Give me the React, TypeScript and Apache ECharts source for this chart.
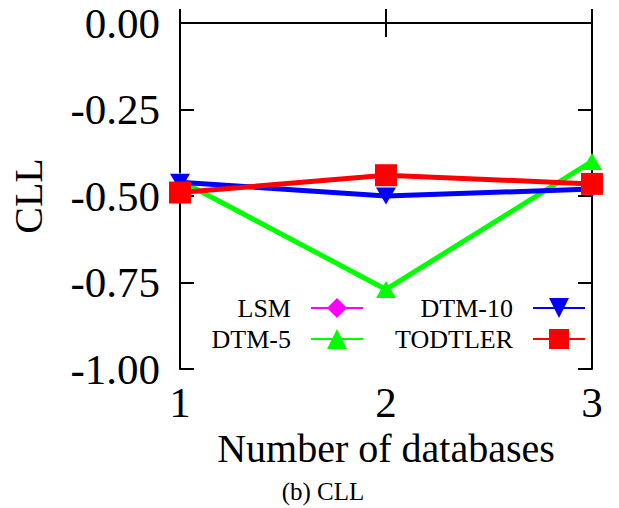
import React, { useEffect, useRef } from "react";
import * as echarts from "echarts";

const xValues = [1, 2, 3];
const lsm: number[] = [];
const dtm5 = [-0.455, -0.77, -0.4];
const dtm10 = [-0.46, -0.5, -0.48];
const todtler = [-0.49, -0.44, -0.465];
const yTicks = [0, -0.25, -0.5, -0.75, -1];

const FONT = "Liberation Serif";

function pts(vals: number[]) {
  return vals.map((v, i) => [xValues[i], v]);
}

export default function App() {
  const ref = useRef<HTMLDivElement>(null);
  useEffect(() => {
    if (!ref.current) return;
    const chart = echarts.init(ref.current, null, { renderer: "svg" });
    const downTri = "path://M0,0 L10,0 L5,8.5 Z";
    const upTri = "path://M5,0 L10,8.5 L0,8.5 Z";
    const seriesDefs = [
      { name: "LSM", data: pts(lsm), color: "#ff00ff", symbol: "diamond", size: 20 },
      { name: "DTM-5", data: pts(dtm5), color: "#00ff00", symbol: upTri, size: [20, 17] },
      { name: "DTM-10", data: pts(dtm10), color: "#0000ff", symbol: downTri, size: [20, 17] },
      { name: "TODTLER", data: pts(todtler), color: "#ff0000", symbol: "rect", size: 22 },
    ];
    const legendPos = [
      { name: "LSM", right: 255, top: 295 },
      { name: "DTM-5", right: 255, top: 326 },
      { name: "DTM-10", right: 33, top: 295 },
      { name: "TODTLER", right: 33, top: 326 },
    ];
    const axisLineStyle = { color: "#000", width: 2 };
    chart.setOption({
      animation: false,
      backgroundColor: "#fff",
      grid: { left: 176, right: 27, top: 23, bottom: 139, containLabel: false },
      xAxis: [
        {
          type: "value",
          min: 1,
          max: 3,
          interval: 1,
          position: "bottom",
          name: "Number of databases",
          nameLocation: "middle",
          nameGap: 50,
          nameTextStyle: { fontFamily: FONT, fontSize: 40, color: "#000" },
          axisLine: { show: true, lineStyle: axisLineStyle },
          axisTick: { show: true, inside: true, length: 14, lineStyle: axisLineStyle },
          axisLabel: { fontFamily: FONT, fontSize: 43, color: "#000", margin: 12 },
          splitLine: { show: false },
        },
        {
          type: "value",
          min: 1,
          max: 3,
          interval: 1,
          position: "top",
          axisLine: { show: true, lineStyle: axisLineStyle },
          axisTick: { show: true, inside: true, length: 14, lineStyle: axisLineStyle },
          axisLabel: { show: false },
          splitLine: { show: false },
        },
      ],
      yAxis: [
        {
          type: "value",
          min: -1,
          max: 0,
          interval: 0.25,
          position: "left",
          name: "CLL",
          nameLocation: "middle",
          nameGap: 132,
          nameTextStyle: { fontFamily: FONT, fontSize: 40, color: "#000" },
          axisLine: { show: true, lineStyle: axisLineStyle },
          axisTick: { show: true, inside: true, length: 14, lineStyle: axisLineStyle },
          axisLabel: {
            fontFamily: FONT,
            fontSize: 43,
            color: "#000",
            margin: 20,
            formatter: (v: number) => {
              const t = yTicks.find((k) => Math.abs(k - v) < 1e-9);
              return (t === undefined ? v : t).toFixed(2);
            },
          },
          splitLine: { show: false },
        },
        {
          type: "value",
          min: -1,
          max: 0,
          interval: 0.25,
          position: "right",
          axisLine: { show: true, lineStyle: axisLineStyle },
          axisTick: { show: true, inside: true, length: 14, lineStyle: axisLineStyle },
          axisLabel: { show: false },
          splitLine: { show: false },
        },
      ],
      legend: legendPos.map((l) => ({
        data: [l.name],
        right: l.right,
        top: l.top,
        padding: 0,
        align: "right",
        itemWidth: 52,
        itemHeight: 25,
        selectedMode: false,
        textStyle: { fontFamily: FONT, fontSize: 26, color: "#000", padding: [0, 15, 0, 0] },
      })),
      graphic: [
        {
          type: "text",
          x: 323,
          y: 491,
          style: {
            text: "(b) CLL",
            fontFamily: FONT,
            fontSize: 25,
            fill: "#000",
            textAlign: "center",
            textVerticalAlign: "middle",
          },
        },
      ],
      series: seriesDefs.map((s) => ({
        name: s.name,
        type: "line",
        data: s.data,
        xAxisIndex: 0,
        yAxisIndex: 0,
        symbol: s.symbol,
        symbolSize: s.size,
        lineStyle: { color: s.color, width: 5 },
        itemStyle: { color: s.color },
        color: s.color,
        clip: false,
      })),
    });
    return () => chart.dispose();
  }, []);
  return <div ref={ref} style={{ width: 619, height: 508, position: "absolute", left: 0, top: 0 }} />;
}
